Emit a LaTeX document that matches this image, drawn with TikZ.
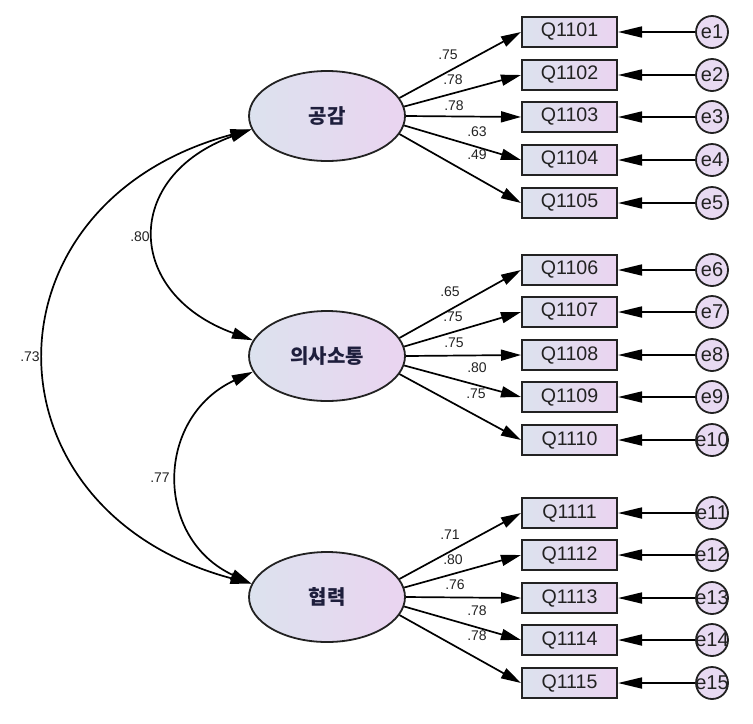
\documentclass[tikz,border=0pt]{standalone}
\usepackage{fontspec}
\setmainfont{Liberation Sans}
\newfontfamily\kr{Noto Sans CJK KR}
\usetikzlibrary{shapes.geometric,arrows.meta}
\definecolor{lblue}{HTML}{DCE2EE}
\definecolor{lpink}{HTML}{EAD4F0}
\definecolor{lcirc}{HTML}{E8DAF2}
\definecolor{ink}{HTML}{222222}
\definecolor{navy}{HTML}{1E1E3C}
\begin{document}
\begin{tikzpicture}[x=0.5pt,y=0.5pt,
    fac/.style={ellipse,draw=ink,line width=0.9pt,left color=lblue,right color=lpink,
      minimum width=78pt,minimum height=45pt,inner sep=0pt,text=navy,
      font=\kr\bfseries\fontsize{10}{12}\selectfont},
    obs/.style={rectangle,draw=ink,line width=1pt,left color=lblue,right color=lpink,
      minimum width=47.5pt,minimum height=15pt,inner sep=0pt,text=ink,
      font=\fontsize{9.8}{11}\selectfont},
    err/.style={circle,draw=ink,line width=0.9pt,fill=lcirc,minimum size=16pt,inner sep=0pt},
    val/.style={inner sep=0pt,text=ink,font=\fontsize{7}{8}\selectfont},
    arr/.style={-{Triangle[length=10pt,width=5.5pt]},line width=0.85pt},
    earr/.style={-{Triangle[length=12pt,width=5.5pt]},line width=0.85pt},
    tw/.style={{Triangle[length=10.5pt,width=5.5pt]}-{Triangle[length=10.5pt,width=5.5pt]},line width=0.85pt}]
    \useasboundingbox (0,0) rectangle (753,-723);
    % latent factors
    \node [fac] (f1) at (327,-116) {공감};
    \node [fac] (f2) at (327,-356) {의사소통};
    \node [fac] (f3) at (327,-597) {협력};
    % items and errors
    \foreach \i/\y in {1/32,2/75,3/117,4/160,5/203,6/270,7/312,8/355,9/397,10/440,11/513,12/555,13/598,14/640,15/683}
    {
      \pgfmathtruncatemacro\q{1100+\i}
      \node [obs] (q\i) at (569.5,-\y) {Q\q};
      \node [err,label={[text=ink,font=\fontsize{10}{11}\selectfont]center:e\i}] (e\i) at (712,-\y) {};
      \draw [earr] (e\i) -- (q\i);
    }
    % loadings
    \foreach \f in {1,2,3}
    \foreach \j/\a in {1/14,2/7,3/0,4/-7,5/-14}
    {
      \pgfmathtruncatemacro\k{5*(\f-1)+\j}
      \draw [arr] (f\f.\a) -- (q\k.west);
    }
    \foreach \k/\x/\y/\v in {1/448/55/.75,2/453/80/.78,3/454/106/.78,4/477/132/.63,5/477/155/.49,
      6/450/292/.65,7/453/317/.75,8/454/343/.75,9/477/368/.80,10/476/394/.75,
      11/450/535/.71,12/453/560/.80,13/455/585/.76,14/477/611/.78,15/477/636/.78}
    \node [val] (l\k) at (\x,-\y) {\v};
    % covariances
    \draw [tw] (f1.190) to [out=195,in=165,looseness=1.6] (f3.170);
    \draw [tw] (f1.190) to [out=200,in=160,looseness=1.66] (f2.168);
    \draw [tw] (f2.192) to [out=205,in=155,looseness=1.3] (f3.170);
    \node [val] (c12) at (140,-237) {.80};
    \node [val] (c13) at (30,-357) {.73};
    \node [val] (c23) at (160,-478) {.77};
\end{tikzpicture}
\end{document}
